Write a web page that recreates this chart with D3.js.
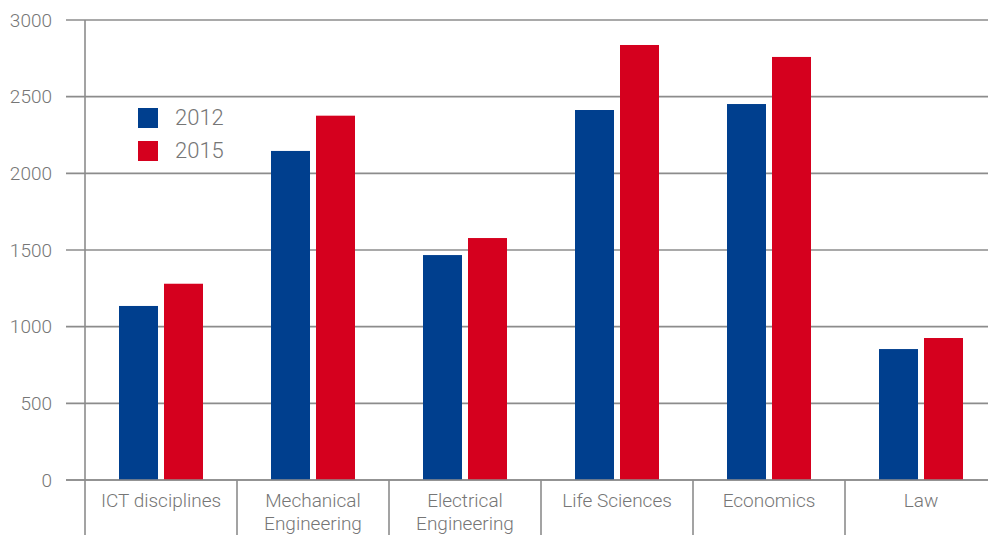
<!DOCTYPE html>
<html>
<head>
<meta charset="utf-8">
<script src="https://cdn.jsdelivr.net/npm/d3@7"></script>
<style>
  html, body { margin: 0; padding: 0; background: #fff; }
  svg { display: block; }
  text { font-family: Roboto, "Open Sans", sans-serif; font-weight: 300; fill: #767676; }
</style>
</head>
<body>
<svg id="chart" width="988" height="535"></svg>
<script>
const categories = [["ICT disciplines"], ["Mechanical", "Engineering"], ["Electrical", "Engineering"], ["Life Sciences"], ["Economics"], ["Law"]];
const seriesNames = ["2012", "2015"];
const values2012 = [1135, 2146, 1467, 2413, 2452, 854];
const values2015 = [1280, 2376, 1578, 2837, 2759, 926];
const yTicks = [0, 500, 1000, 1500, 2000, 2500, 3000];
const colors = ["#003f8e", "#d5001e"];

(function () {
const svg = d3.select("#chart");
const W = 988, H = 535;
const mLeft = 85, mTop = 20, mBottom = 480;

const catKeys = categories.map(c => c.join(" "));
const x = d3.scaleBand().domain(catKeys).range([mLeft, mLeft + 152 * 6]).paddingInner(0).paddingOuter(0);
const xs = d3.scaleBand().domain(seriesNames).range([0, x.bandwidth()]).paddingInner(0.1333).paddingOuter(0.7556);
const y = d3.scaleLinear().domain([0, 3000]).range([mBottom, mTop]);

const gridColor = "#8c8c8c";

svg.append("g").selectAll("line").data(yTicks).join("line")
  .attr("x1", 66).attr("x2", W)
  .attr("y1", d => y(d)).attr("y2", d => y(d))
  .attr("stroke", gridColor).attr("stroke-width", 1.6);

svg.append("g").selectAll("text").data(yTicks).join("text")
  .attr("x", 52).attr("y", d => y(d)).attr("dy", "0.35em")
  .attr("text-anchor", "end").attr("font-size", 19)
  .text(d => d);

const data = catKeys.map((k, i) => ({ k, vals: [values2012[i], values2015[i]] }));
const groups = svg.append("g").selectAll("g").data(data).join("g")
  .attr("transform", d => `translate(${x(d.k)},0)`);
groups.selectAll("rect").data(d => d.vals.map((v, j) => ({ s: seriesNames[j], v, j }))).join("rect")
  .attr("x", d => xs(d.s)).attr("width", xs.bandwidth())
  .attr("y", d => y(d.v)).attr("height", d => y(0) - y(d.v))
  .attr("fill", d => colors[d.j]);

svg.append("line").attr("x1", 66).attr("x2", W).attr("y1", y(0)).attr("y2", y(0))
  .attr("stroke", gridColor).attr("stroke-width", 1.6);

svg.append("line").attr("x1", mLeft).attr("x2", mLeft).attr("y1", y(3000)).attr("y2", H)
  .attr("stroke", gridColor).attr("stroke-width", 1.6);

svg.append("g").selectAll("line").data(catKeys.slice(1)).join("line")
  .attr("x1", d => x(d)).attr("x2", d => x(d)).attr("y1", y(0)).attr("y2", H)
  .attr("stroke", gridColor).attr("stroke-width", 1.6);

const lab = svg.append("g").selectAll("text").data(categories).join("text")
  .attr("text-anchor", "middle").attr("font-size", 19)
  .attr("transform", (d, i) => `translate(${x(catKeys[i]) + x.bandwidth() / 2},507)`);
lab.selectAll("tspan").data(d => d).join("tspan")
  .attr("x", 0).attr("dy", (d, i) => i === 0 ? 0 : 23).text(d => d);

const leg = svg.append("g").selectAll("g").data(seriesNames).join("g")
  .attr("transform", (d, i) => `translate(138,${108 + i * 33})`);
leg.append("rect").attr("width", 20).attr("height", 20).attr("fill", (d, i) => colors[i]);
leg.append("text").attr("x", 37).attr("y", 16.5).attr("font-size", 22).text(d => d);
})();
</script>
</body>
</html>
